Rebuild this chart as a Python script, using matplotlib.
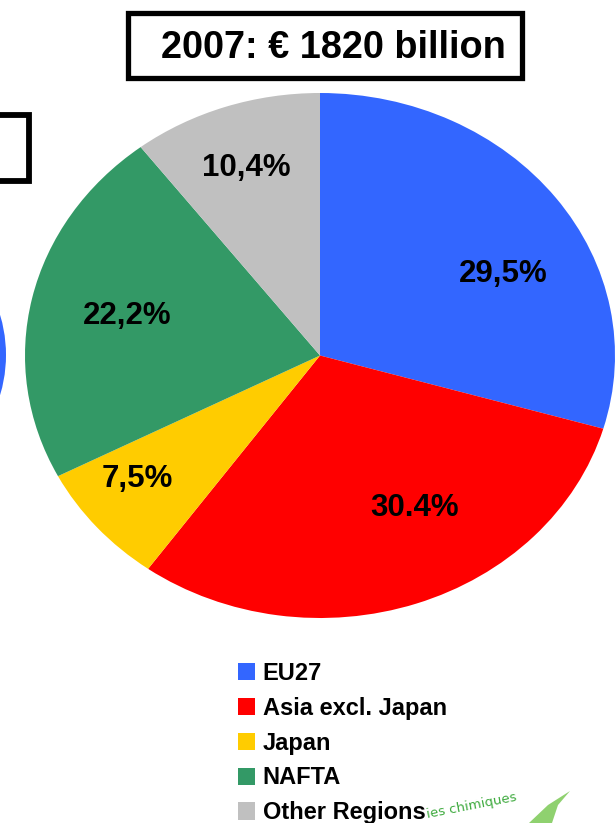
import matplotlib
matplotlib.use("Agg")
import matplotlib.pyplot as plt
from matplotlib.patches import Rectangle, Ellipse, Polygon, Patch

plt.rcParams['font.family'] = ['Liberation Sans', 'DejaVu Sans']

# ---- data ----
regions = ["EU27", "Asia excl. Japan", "Japan", "NAFTA", "Other Regions"]
shares = [29.5, 30.4, 7.5, 22.2, 10.4]
share_labels = ["29,5%", "30.4%", "7,5%", "22,2%", "10,4%"]
colors = ["#3366FF", "#FF0000", "#FFCC00", "#339966", "#C0C0C0"]
title = "2007: \u20ac 1820 billion"

# label positions inside the pie (axes data units)
label_pos = [(0.62, 0.31), (0.322, -0.58), (-0.62, -0.47), (-0.655, 0.15), (-0.25, 0.715)]

W, H = 615, 823
fig = plt.figure(figsize=(W / 100, H / 100), dpi=100)

def fx(px):
    return px / W

def fy(py):
    return 1 - py / H

# partial elements cut off at the left edge
fig.patches.append(Ellipse((fx(6 - 500), fy(355)), 1000 / W, 525 / H,
                           transform=fig.transFigure, facecolor="#3366FF",
                           edgecolor="none", zorder=0))
fig.patches.append(Rectangle((fx(-100), fy(180.5)), 129 / W, 65.5 / H,
                             transform=fig.transFigure, facecolor="white",
                             edgecolor="black", linewidth=4.2, zorder=1))

# pie
ax = fig.add_axes([fx(25), fy(618), 590 / W, 525 / H])
wedges, _ = ax.pie(shares, colors=colors, startangle=90, counterclock=False,
                   radius=1, wedgeprops=dict(linewidth=0))
ax.set_aspect('auto')
ax.set_xlim(-1, 1)
ax.set_ylim(-1, 1)
ax.axis('off')
for (x, y), txt in zip(label_pos, share_labels):
    ax.text(x, y, txt, ha='center', va='center', fontsize=22.5,
            fontweight='bold', color='black')

# title box
fig.patches.append(Rectangle((fx(127.5), fy(78)), 394 / W, 65.5 / H,
                             transform=fig.transFigure, facecolor="white",
                             edgecolor="black", linewidth=3.8, zorder=2))
fig.text(fx(333), fy(48), title, ha='center', va='center', fontsize=27.3,
         fontweight='bold', zorder=3)

# legend
handles = [Patch(facecolor=c, edgecolor='none') for c in colors]
fig.legend(handles, regions, loc='upper left',
           bbox_to_anchor=(fx(238), fy(662)), frameon=False,
           prop=dict(weight='bold', size=17), handlelength=0.74,
           handleheight=0.74, handletextpad=0.3, labelspacing=0.5,
           borderpad=0, borderaxespad=0)

# logo fragment bottom right
fig.patches.append(Polygon([(fx(529), fy(823)), (fx(548), fy(805)),
                            (fx(570), fy(791)), (fx(558), fy(805)),
                            (fx(552), fy(823))], closed=True,
                           transform=fig.transFigure, facecolor="#8FD16F",
                           edgecolor="none", zorder=4))
fig.text(fx(426), fy(821), "ies chimiques", color="#3DAA3D", fontsize=9.5,
         family='DejaVu Sans', rotation=11, ha='left', va='bottom', zorder=5)

fig.savefig("out.png", dpi=100)
